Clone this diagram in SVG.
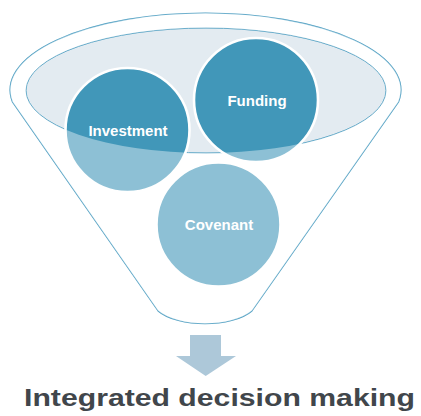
<svg xmlns="http://www.w3.org/2000/svg" width="421" height="416" viewBox="0 0 421 416">
  <style>
    .outline { fill: none; stroke: #4a9cc0; stroke-width: 1.1; }
    .bubble { fill: #4197b9; stroke: #ffffff; stroke-width: 2.6; }
    .label { font-family: "Liberation Sans", Arial, sans-serif; font-weight: bold; font-size: 15px; fill: #ffffff; text-anchor: middle; }
    .title { font-family: "Liberation Sans", Arial, sans-serif; font-weight: bold; font-size: 24.5px; fill: #41464b; }
  </style>
  <rect width="421" height="416" fill="#ffffff"/>
  <g id="funnel">
    <path class="outline" d="M 12.4 102 A 195.5 77 0 1 1 398.6 102 L 252 311 C 232 328 178 328 158 311 Z" fill="#ffffff"/>
    <ellipse cx="206" cy="90.5" rx="180" ry="62.5" fill="#e3ebf1" stroke="#4a9cc0" stroke-width="1"/>
  </g>
  <g id="investment">
    <circle class="bubble" cx="127.5" cy="130" r="62"/>
  </g>
  <g id="funding">
    <circle class="bubble" cx="256" cy="100" r="62"/>
  </g>
  <g id="covenant">
    <circle class="bubble" cx="218.5" cy="224.5" r="62"/>
  </g>
  <path fill="#ffffff" fill-opacity="0.4" fill-rule="evenodd" d="M 12.4 102 A 195.5 77 0 1 1 398.6 102 L 252 311 C 232 328 178 328 158 311 Z M 26 90.5 A 180 62.5 0 1 0 386 90.5 A 180 62.5 0 1 0 26 90.5 Z"/>
  <g id="labels">
    <text class="label" x="128" y="135.5">Investment</text>
    <text class="label" x="257" y="106">Funding</text>
    <text class="label" x="219" y="230">Covenant</text>
  </g>
  <g id="connectors">
    <path d="M 190 335 L 221 335 L 221 356 L 236 356 L 205.7 376 L 176 356 L 190 356 Z" fill="#adc8d9"/>
  </g>
  <g id="result">
    <text class="title" x="24" y="405.5" textLength="391" lengthAdjust="spacingAndGlyphs">Integrated decision making</text>
  </g>
</svg>
